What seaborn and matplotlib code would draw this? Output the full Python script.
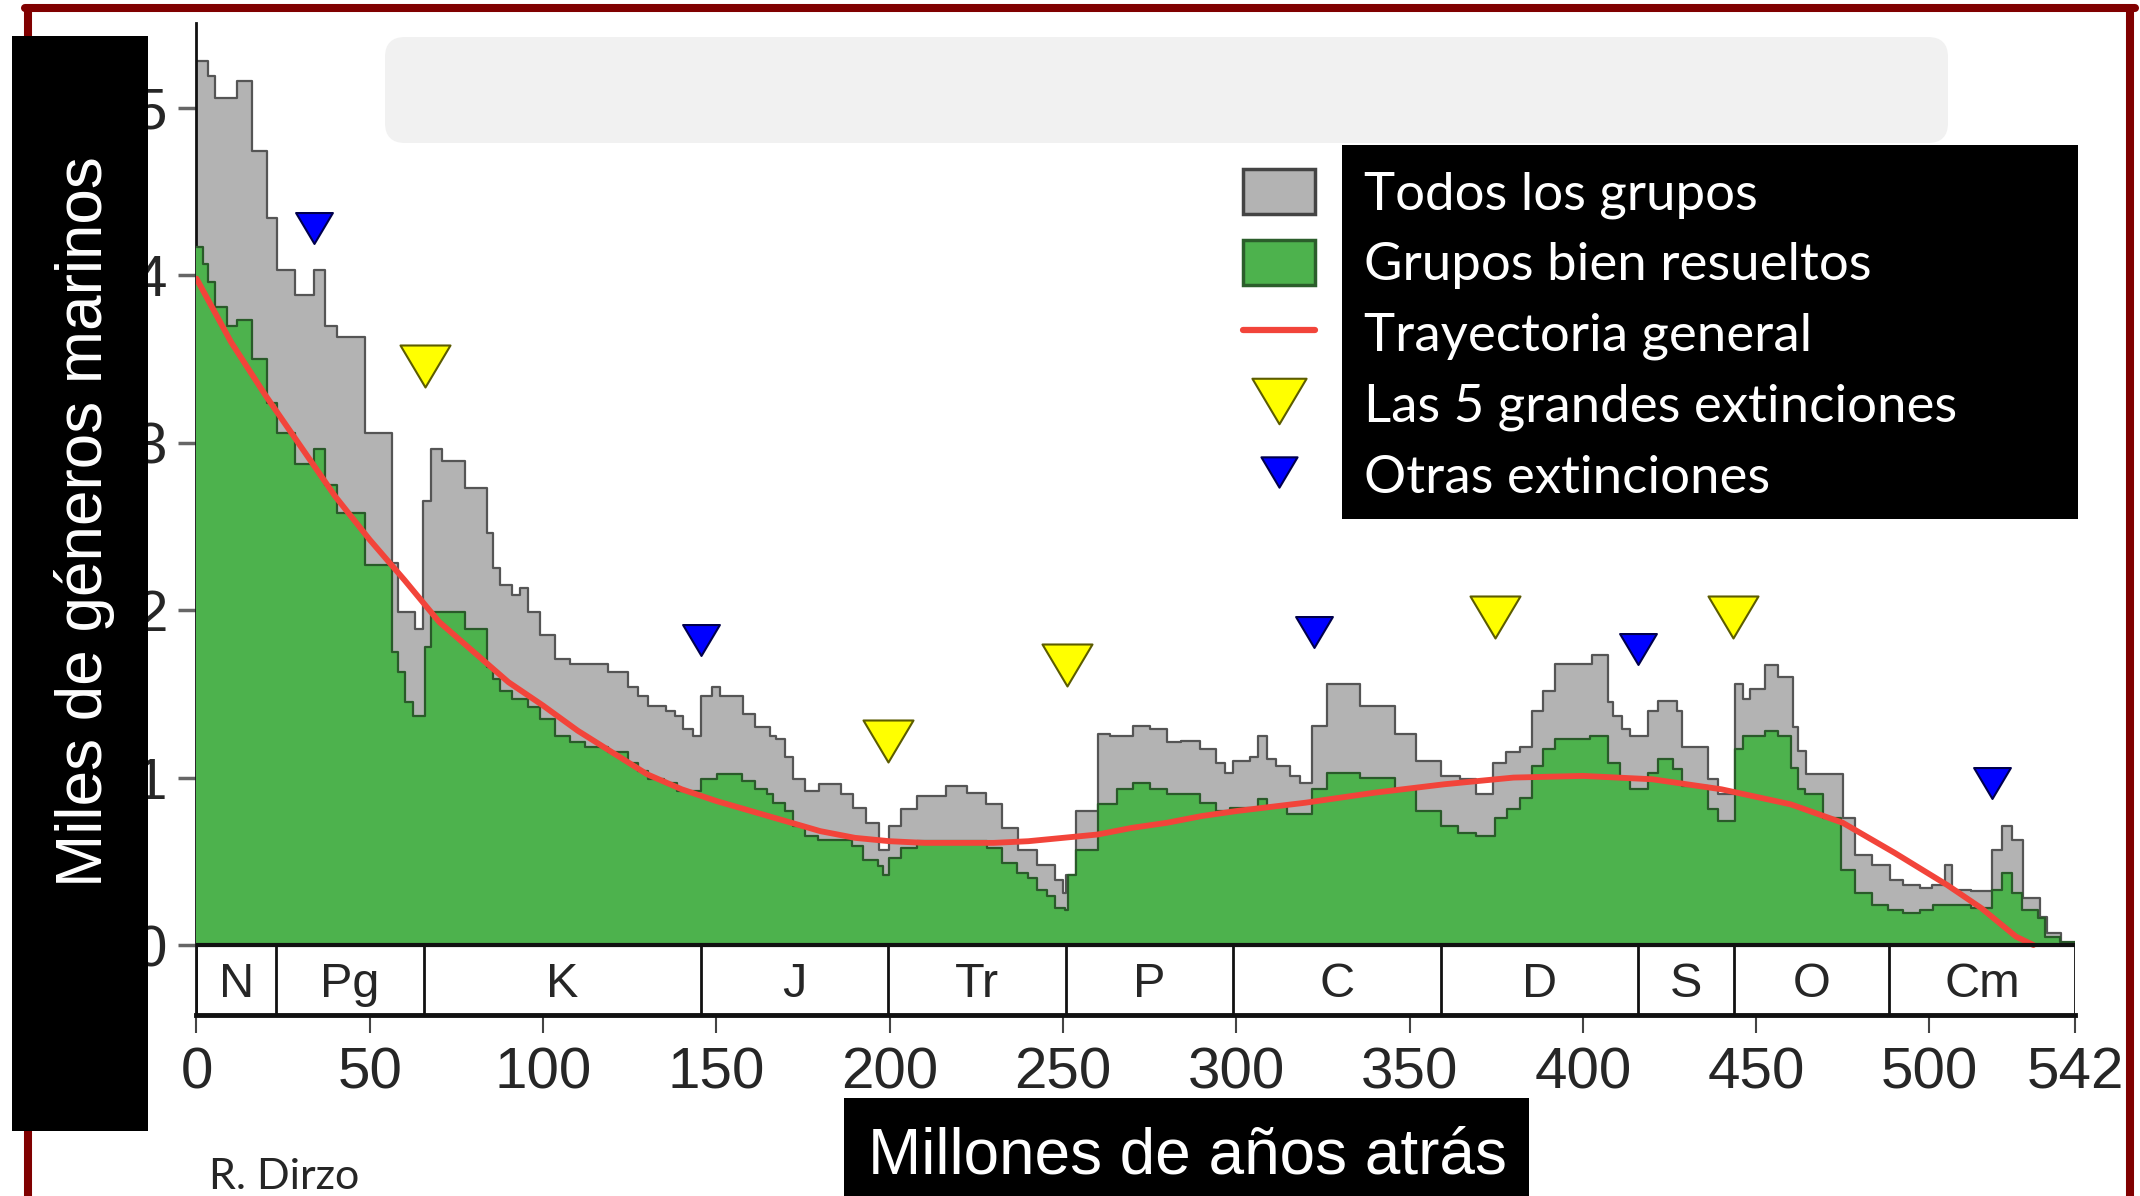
import matplotlib
matplotlib.use("Agg")
import matplotlib.pyplot as plt
import seaborn as sns
from matplotlib.patches import Rectangle, FancyBboxPatch, Patch
from matplotlib.lines import Line2D
from matplotlib.path import Path

# --- all marine genera (step starts in Ma, thousands of genera) ---
all_ma = [0, 3.4, 5.3, 11.6, 15.9, 20.4, 23.3, 28.4, 33.9, 37.1, 40.4, 48.6, 56.3, 58.2, 63.0,
          65.4, 67.8, 70.7, 77.4, 83.7, 85.6, 87.5, 90.9, 93.3, 95.7, 99.1, 103.4, 107.8, 118.8,
          124.6, 127.5, 130.3, 135.6, 138.0, 140.5, 143.3, 145.7, 148.6, 151.0, 157.6, 161.1,
          165.5, 167.2, 169.8, 172.0, 175.6, 179.7, 186.1, 189.3, 193.1, 197.0, 199.9, 203.4,
          207.8, 216.2, 222.2, 227.8, 232.3, 237.1, 242.4, 247.7, 250.1, 250.8, 253.9, 260.2,
          263.6, 270.3, 275.1, 279.9, 284.2, 289.5, 294.3, 296.7, 299.1, 303.9, 306.3, 308.9,
          311.6, 315.5, 318.4, 321.9, 326.1, 335.7, 345.8, 352.0, 359.2, 364.5, 369.3, 374.1,
          377.9, 381.8, 385.2, 388.6, 391.9, 402.5, 407.3, 408.8, 411.2, 413.6, 418.9, 421.8,
          427.1, 428.5, 436.2, 439.1, 443.9, 446.3, 448.2, 452.5, 456.4, 460.7, 462.2, 464.5,
          475.1, 478.5, 483.3, 488.6, 492.4, 497.2, 500.6, 504.5, 506.4, 512.1, 518.0, 520.8,
          523.7, 526.9, 531.9, 533.8, 538.1, 542]
all_val = [5.28, 5.19, 5.06, 5.16, 4.74, 4.34, 4.03, 3.88, 4.03, 3.70, 3.63, 3.06, 2.28, 1.99, 1.89,
           2.65, 2.96, 2.89, 2.73, 2.46, 2.25, 2.15, 2.09, 2.13, 1.99, 1.85, 1.71, 1.68, 1.63,
           1.54, 1.49, 1.43, 1.40, 1.37, 1.29, 1.25, 1.49, 1.54, 1.49, 1.38, 1.30,
           1.25, 1.23, 1.12, 0.99, 0.92, 0.96, 0.90, 0.82, 0.73, 0.57, 0.71, 0.81,
           0.89, 0.95, 0.91, 0.84, 0.70, 0.57, 0.48, 0.39, 0.31, 0.42, 0.80, 1.26,
           1.25, 1.31, 1.29, 1.21, 1.22, 1.17, 1.09, 1.03, 1.10, 1.12, 1.25, 1.11,
           1.07, 1.01, 0.97, 1.31, 1.56, 1.43, 1.26, 1.10, 1.01, 0.99, 0.90, 1.09,
           1.15, 1.18, 1.40, 1.52, 1.68, 1.73, 1.45, 1.37, 1.29, 1.25, 1.40, 1.46,
           1.40, 1.18, 0.99, 0.90, 1.56, 1.47, 1.53, 1.67, 1.60, 1.30, 1.16, 1.02,
           0.76, 0.54, 0.48, 0.39, 0.36, 0.34, 0.36, 0.48, 0.33, 0.32, 0.57, 0.71,
           0.63, 0.28, 0.17, 0.07, 0.01, 0.01]

# --- well-resolved groups ---
good_ma = [0, 2.0, 3.4, 5.3, 8.7, 11.6, 15.9, 20.4, 23.3, 28.4, 33.9, 37.1, 40.4, 48.6, 56.3,
           58.2, 60.1, 62.5, 65.9, 67.8, 77.4, 83.7, 85.6, 87.5, 90.9, 95.7, 99.1, 103.4, 107.8,
           112.1, 118.8, 124.6, 127.5, 130.3, 135.0, 138.5, 145.7, 150.1, 157.3, 161.1, 164.5,
           166.4, 169.8, 172.2, 175.6, 179.4, 189.0, 192.4, 196.7, 198.1, 199.9, 203.4, 207.8,
           228.0, 232.3, 236.6, 240.0, 242.4, 245.3, 247.7, 250.6, 251.5, 253.9, 260.2, 265.5,
           270.3, 275.1, 279.9, 289.5, 294.3, 298.2, 306.3, 308.9, 314.5, 321.9, 326.1, 335.7,
           345.8, 352.0, 359.2, 364.1, 369.3, 374.6, 378.0, 381.8, 385.2, 388.6, 391.9, 402.0,
           407.3, 410.7, 413.6, 418.9, 421.8, 426.1, 428.5, 436.2, 439.1, 443.9, 446.3, 452.5,
           456.4, 460.2, 462.2, 464.1, 469.4, 474.6, 478.5, 483.3, 488.1, 492.4, 497.2, 501.1,
           512.1, 518.0, 520.8, 523.7, 526.6, 531.4, 533.3, 537.6, 542]
good_val = [4.17, 4.07, 3.96, 3.81, 3.70, 3.73, 3.50, 3.24, 3.06, 2.87, 2.96, 2.75, 2.58, 2.27, 1.75,
            1.63, 1.45, 1.37, 1.78, 1.99, 1.89, 1.66, 1.59, 1.52, 1.47, 1.42, 1.35, 1.25, 1.21,
            1.18, 1.15, 1.09, 1.04, 0.99, 0.97, 0.92, 0.99, 1.02, 0.98, 0.93, 0.90,
            0.85, 0.80, 0.71, 0.65, 0.63, 0.59, 0.51, 0.47, 0.42, 0.52, 0.58, 0.62,
            0.58, 0.49, 0.43, 0.40, 0.33, 0.29, 0.22, 0.21, 0.42, 0.57, 0.84, 0.93,
            0.97, 0.93, 0.90, 0.85, 0.80, 0.82, 0.87, 0.83, 0.78, 0.93, 1.03, 1.00,
            0.93, 0.80, 0.71, 0.67, 0.65, 0.76, 0.81, 0.88, 1.07, 1.17, 1.23, 1.25,
            1.09, 0.99, 0.93, 1.03, 1.11, 1.05, 0.95, 0.81, 0.74, 1.17, 1.25, 1.28,
            1.25, 1.06, 0.93, 0.90, 0.76, 0.45, 0.31, 0.24, 0.21, 0.19, 0.21, 0.24,
            0.22, 0.33, 0.43, 0.31, 0.21, 0.16, 0.05, 0.02, 0.02]

# --- general trajectory ---
trend_ma = [0, 10, 20, 30, 40, 50, 60, 70, 80, 90, 100, 110, 120, 130, 140, 150, 160, 170, 180,
            190, 200, 210, 220, 230, 240, 250, 260, 270, 280, 290, 300, 320, 340, 360, 380, 400,
            420, 440, 460, 475, 490, 505, 515, 525, 530]
trend_val = [3.98, 3.60, 3.28, 2.98, 2.68, 2.42, 2.18, 1.93, 1.75, 1.57, 1.43, 1.28, 1.15, 1.02,
             0.93, 0.86, 0.80, 0.74, 0.68, 0.64, 0.62, 0.61, 0.61, 0.61, 0.62, 0.64, 0.66, 0.70,
             0.73, 0.77, 0.80, 0.85, 0.91, 0.96, 1.00, 1.01, 0.99, 0.93, 0.84, 0.73, 0.55, 0.36,
             0.22, 0.05, 0.0]

# --- extinction markers ---
big5_ma = [65.8, 199.5, 251.1, 374.6, 443.4]
big5_y = [3.46, 1.22, 1.67, 1.96, 1.96]
other_ma = [34.0, 145.5, 322.3, 415.9, 518.0]
other_y = [4.28, 1.82, 1.87, 1.77, 0.97]

# --- geologic periods ---
period_edges = [0, 23.0, 65.5, 145.5, 199.6, 251.0, 299.0, 359.2, 416.0, 443.7, 488.3, 542.0]
period_names = ["N", "Pg", "K", "J", "Tr", "P", "C", "D", "S", "O", "Cm"]
xtick_vals = [0, 50, 100, 150, 200, 250, 300, 350, 400, 450, 500, 542]

legend_labels = ["Todos los grupos", "Grupos bien resueltos", "Trayectoria general",
                 "Las 5 grandes extinciones", "Otras extinciones"]

GREY = "#b3b3b3"
GREEN = "#4db24d"
RED = "#f2443a"
YELLOW = "#ffff00"
BLUE = "#0000ff"
MAROON = "#800000"
BAND_LOW = -0.418

sns.set_style("white")
plt.rcParams['font.family'] = ['Liberation Sans', 'DejaVu Sans']

fig = plt.figure(figsize=(21.4, 11.96), dpi=100)
ax = fig.add_axes([0.09182, 0.15134, 0.87780, 0.82918])

ax.fill_between(all_ma, all_val, step="post", color=GREY, lw=0, zorder=1)
ax.step(all_ma, all_val, where="post", color="#555555", lw=1.6, zorder=2)
ax.fill_between(good_ma, good_val, step="post", color=GREEN, lw=0, zorder=3)
ax.step(good_ma, good_val, where="post", color="#2a5a2a", lw=1.6, zorder=4)

sns.lineplot(x=trend_ma, y=trend_val, color=RED, lw=4.2, ax=ax, zorder=5)

tri = Path([(-1, 0.84), (1, 0.84), (0, -0.84), (-1, 0.84)],
           [Path.MOVETO, Path.LINETO, Path.LINETO, Path.CLOSEPOLY])
sns.scatterplot(x=big5_ma, y=big5_y, marker=tri, s=36 ** 2, color=YELLOW,
                edgecolor="#5c5c00", linewidth=1.5, zorder=6, ax=ax)
sns.scatterplot(x=other_ma, y=other_y, marker=tri, s=26.5 ** 2, color=BLUE,
                edgecolor="#00004d", linewidth=1.5, zorder=6, ax=ax)

# period band under the curve
ax.vlines(period_edges, BAND_LOW, 0, color="#111111", lw=2, zorder=7)
ax.axhline(0, color="#111111", lw=3, zorder=7)
for i, name in enumerate(period_names):
    ax.text((period_edges[i] + period_edges[i + 1]) / 2, -0.235, name,
            ha="center", va="center", fontsize=35, zorder=8)

ax.set_xlim(0, 542)
ax.set_ylim(BAND_LOW, 5.505)
ax.set_xticks(xtick_vals)
ax.set_xticklabels([str(v) for v in xtick_vals])
ax.set_yticks(range(6))
ax.tick_params(axis="x", bottom=True, length=13, width=1.5, color="#444444", pad=10, labelsize=42)
ax.tick_params(axis="y", left=True, length=13, width=2.5, color="#666666", pad=8, labelsize=42)
for side in ["top", "right"]:
    ax.spines[side].set_visible(False)
ax.spines["left"].set_color("#111111")
ax.spines["left"].set_linewidth(2)
ax.spines["bottom"].set_color("#111111")
ax.spines["bottom"].set_linewidth(3.5)
ax.set_xlabel("")
ax.set_ylabel("")

# slide decorations
fig.add_artist(Line2D([25 / 2140, 2135 / 2140], [1 - 8 / 1196] * 2, transform=fig.transFigure,
                      color=MAROON, lw=5.8, zorder=1))
fig.add_artist(Line2D([28 / 2140] * 2, [1 - 8 / 1196, 0], transform=fig.transFigure,
                      color=MAROON, lw=5.8, zorder=1))
fig.add_artist(Line2D([2130 / 2140] * 2, [1 - 8 / 1196, 0], transform=fig.transFigure,
                      color=MAROON, lw=5.8, zorder=1))
fig.add_artist(FancyBboxPatch((3.85, 10.53), 15.63, 1.06, boxstyle="round,pad=0,rounding_size=0.2",
                              transform=fig.dpi_scale_trans, color="#f1f1f1", lw=0, zorder=2))
fig.add_artist(Rectangle((0.12, 0.65), 1.36, 10.95, transform=fig.dpi_scale_trans,
                         color="black", lw=0, zorder=2))
fig.add_artist(Rectangle((8.44, 0.0), 6.85, 0.98, transform=fig.dpi_scale_trans,
                         color="black", lw=0, zorder=2))
fig.add_artist(Rectangle((13.42, 6.77), 7.36, 3.74, transform=fig.dpi_scale_trans,
                         color="black", lw=0, zorder=2))

fig.text(0.0393, 0.5635, "Miles de géneros marinos", rotation=90, ha="center", va="center",
         color="white", fontsize=46, zorder=3)
fig.text(0.5547, 0.0184, "Millones de años atrás", ha="center", va="baseline",
         color="white", fontsize=46, zorder=3)
fig.text(0.0977, 0.0162, "R. Dirzo", ha="left", va="center", fontsize=31,
         family=["Lato", "DejaVu Sans"], zorder=3)

handles = [Patch(facecolor=GREY, edgecolor="#444444", linewidth=2.5),
           Patch(facecolor=GREEN, edgecolor="#2b5e2b", linewidth=2.5),
           Line2D([], [], color=RED, lw=4.5),
           Line2D([], [], ls="none", marker=tri, markersize=39, mfc=YELLOW, mec="#5c5c00", mew=1.5),
           Line2D([], [], ls="none", marker=tri, markersize=26, mfc=BLUE, mec="#00004d", mew=1.5)]
leg = fig.legend(handles, legend_labels, loc="upper left", bbox_to_anchor=(0.5808, 0.8591),
                 bbox_transform=fig.transFigure, frameon=False, borderpad=0, borderaxespad=0,
                 handlelength=1.36, handleheight=0.95, handletextpad=0.93, labelspacing=0.39,
                 labelcolor="white", prop={"family": ["Lato", "DejaVu Sans"], "size": 38})
leg.set_zorder(3)

fig.savefig("out.png", dpi=100)
